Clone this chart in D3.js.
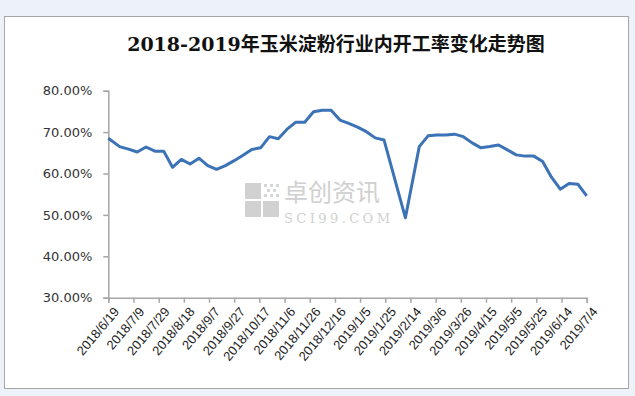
<!DOCTYPE html>
<html>
<head>
<meta charset="utf-8">
<script src="https://cdn.jsdelivr.net/npm/d3@7"></script>
<style>
  body { margin: 0; background: #edf2f9; }
  svg { display: block; }
</style>
</head>
<body>
<div id="container"></div>
<script>
/* CONSTANTS AND GLOBALS */
const width = 635,
      height = 396;

const titleText = "2018-2019年玉米淀粉行业内开工率变化走势图";

// weekly dates of the series
const dates = [
  "2018/6/19", "2018/6/28", "2018/7/5", "2018/7/12", "2018/7/19", "2018/7/26",
  "2018/8/2", "2018/8/9", "2018/8/16", "2018/8/23", "2018/8/30", "2018/9/6",
  "2018/9/13", "2018/9/20", "2018/9/27", "2018/10/4", "2018/10/11", "2018/10/18",
  "2018/10/25", "2018/11/1", "2018/11/8", "2018/11/15", "2018/11/22", "2018/11/29",
  "2018/12/6", "2018/12/13", "2018/12/20", "2018/12/27", "2019/1/3", "2019/1/10",
  "2019/1/17", "2019/1/24", "2019/2/10", "2019/2/21", "2019/2/28", "2019/3/7",
  "2019/3/14", "2019/3/21", "2019/3/28", "2019/4/4", "2019/4/11", "2019/4/18",
  "2019/4/25", "2019/5/2", "2019/5/9", "2019/5/16", "2019/5/23", "2019/5/30",
  "2019/6/6", "2019/6/13", "2019/6/20", "2019/6/27", "2019/7/4"
];

// operating rate, %
const rates = [
  68.5, 66.5, 65.9, 65.2, 66.4, 65.4, 65.4, 61.5, 63.4, 62.3,
  63.7, 61.9, 61.0, 61.9, 63.1, 64.4, 65.8, 66.2, 68.9, 68.4,
  70.7, 72.4, 72.4, 74.9, 75.3, 75.3, 72.9, 72.1, 71.2, 70.1,
  68.6, 68.1, 49.3, 66.5, 69.1, 69.3, 69.3, 69.5, 68.9, 67.4,
  66.2, 66.5, 66.9, 65.7, 64.5, 64.2, 64.2, 62.9, 59.1, 56.2,
  57.6, 57.4, 54.6
];

// x axis labels (every 20 days)
const xTicks = [
  "2018/6/19", "2018/7/9", "2018/7/29", "2018/8/18", "2018/9/7", "2018/9/27",
  "2018/10/17", "2018/11/6", "2018/11/26", "2018/12/16", "2019/1/5", "2019/1/25",
  "2019/2/14", "2019/3/6", "2019/3/26", "2019/4/15", "2019/5/5", "2019/5/25",
  "2019/6/14", "2019/7/4"
];

const yTicks = [30, 40, 50, 60, 70, 80];

const parse = d3.utcParse("%Y/%m/%d");
const data = dates.map((d, i) => ({ date: parse(d), value: rates[i] }));

/* SVG */
const svg = d3.select("#container")
  .append("svg")
  .attr("width", width)
  .attr("height", height);

// outer frame
svg.append("rect")
  .attr("x", 4.5).attr("y", 16.5)
  .attr("width", 624).attr("height", 372)
  .attr("fill", "#fff")
  .attr("stroke", "#a6a6a6");

svg.append("text")
  .attr("x", 336)
  .attr("y", 51)
  .attr("text-anchor", "middle")
  .style("font-family", "'DejaVu Serif', 'Noto Sans CJK SC', serif")
  .style("font-size", "19px")
  .style("font-weight", "bold")
  .attr("fill", "#111")
  .text(titleText);

/* SCALES */
const xScale = d3.scaleUtc()
  .domain([parse(xTicks[0]), parse(xTicks[xTicks.length - 1])])
  .range([108.3, 586.7]);

const yScale = d3.scaleLinear()
  .domain([30, 80])
  .range([297.7, 90.7]);

/* WATERMARK */
const wm = svg.append("g").attr("opacity", 0.85);
[[245, 183, 16, 16], [245, 201, 16, 16], [263, 201, 16, 16]].forEach(r => {
  wm.append("rect")
    .attr("x", r[0]).attr("y", r[1])
    .attr("width", r[2]).attr("height", r[3])
    .attr("fill", "#c9c9c9");
});
// dotted corner of the logo
[[264, 184], [270, 184], [276, 184], [267, 189], [273, 189], [264, 194], [270, 194], [276, 194]].forEach(p => {
  wm.append("rect")
    .attr("x", p[0]).attr("y", p[1])
    .attr("width", 3).attr("height", 3)
    .attr("fill", "#cfcfcf");
});
wm.append("text")
  .attr("x", 284).attr("y", 201)
  .style("font-family", "'Noto Sans CJK SC', sans-serif")
  .style("font-size", "24px")
  .attr("fill", "#c8c8c8")
  .text("卓创资讯");
wm.append("text")
  .attr("x", 284).attr("y", 223)
  .attr("textLength", 106)
  .style("font-family", "'DejaVu Serif', serif")
  .style("font-size", "13px")
  .attr("fill", "#c8c8c8")
  .text("SCI99.COM");

/* AXES */
const yAxis = d3.axisLeft(yScale)
  .tickValues(yTicks)
  .tickSize(5)
  .tickFormat(d => d.toFixed(2) + "%");

const gy = svg.append("g")
  .attr("transform", `translate(${xScale.range()[0]},0)`)
  .call(yAxis);

const xAxis = d3.axisBottom(xScale)
  .tickValues(xTicks.map(parse))
  .tickSize(5)
  .tickFormat((d, i) => xTicks[i]);

const gx = svg.append("g")
  .attr("transform", `translate(0,${yScale.range()[0]})`)
  .call(xAxis);

[gx, gy].forEach(g => {
  g.select(".domain").attr("stroke", "#a6a6a6").attr("stroke-width", 1.5);
  g.selectAll(".tick line").attr("stroke", "#a6a6a6").attr("stroke-width", 1.5);
});

gy.selectAll(".tick text")
  .attr("x", -16)
  .attr("fill", "#333")
  .style("font-family", "'DejaVu Sans', sans-serif")
  .style("font-size", "13px");

gx.selectAll(".tick text")
  .attr("fill", "#222")
  .style("font-family", "'Liberation Sans', sans-serif")
  .style("font-size", "13px")
  .attr("text-anchor", "end")
  .attr("dy", 0)
  .attr("transform", "translate(5,9) rotate(-50)");

/* LINE */
const line = d3.line()
  .x(d => xScale(d.date))
  .y(d => yScale(d.value));

svg.append("path")
  .datum(data)
  .attr("fill", "none")
  .attr("stroke", "#3c72b6")
  .attr("stroke-width", 3)
  .attr("stroke-linejoin", "round")
  .attr("d", line);
</script>
</body>
</html>
